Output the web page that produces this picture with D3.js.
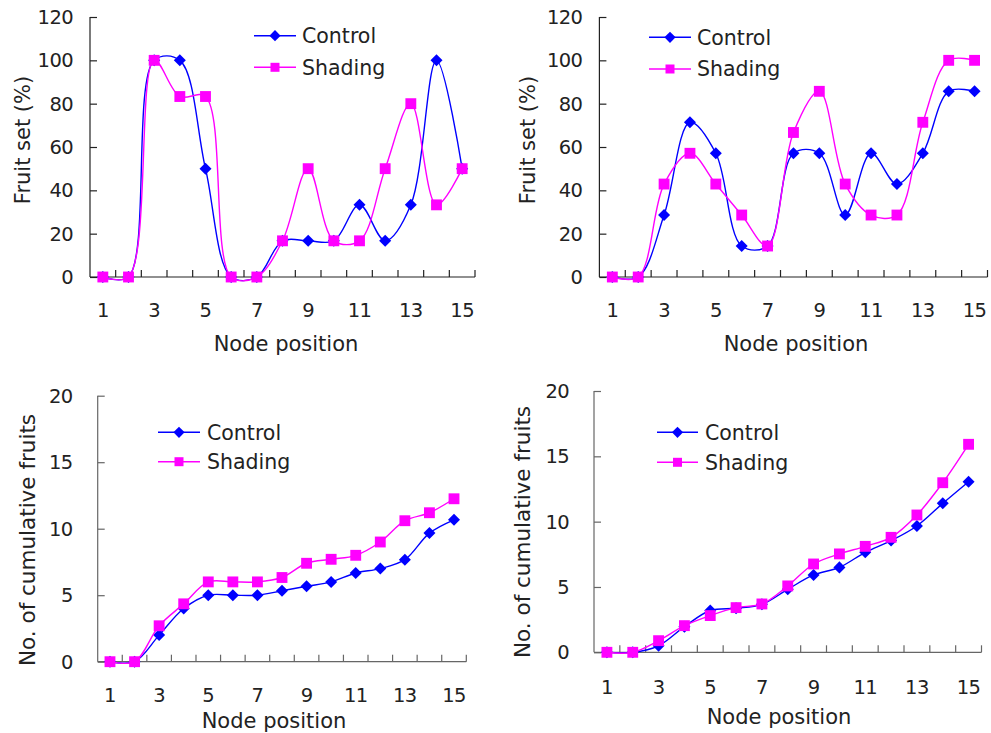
<!DOCTYPE html>
<html>
<head>
<meta charset="utf-8">
<script src="https://cdn.jsdelivr.net/npm/d3@7"></script>
<style>
  html, body { margin: 0; padding: 0; background: #fff; }
  svg { display: block; font-family: "DejaVu Sans", sans-serif; }
</style>
</head>
<body>
<svg id="chart" width="991" height="733"></svg>
<script>
// Node positions along the stem
const nodes = [1, 2, 3, 4, 5, 6, 7, 8, 9, 10, 11, 12, 13, 14, 15];
const nodeTickLabels = [1, 3, 5, 7, 9, 11, 13, 15];
const seriesNames = ["Control", "Shading"];

// Fruit set (%) per node, first experiment
const fruitSetA_control = [0, 0, 100, 100, 50, 0, 0, 16.7, 16.7, 16.7, 33.3, 16.7, 33.3, 100, 50];
const fruitSetA_shading = [0, 0, 100, 83.3, 83.3, 0, 0, 16.7, 50, 16.7, 16.7, 50, 80, 33.3, 50];

// Fruit set (%) per node, second experiment
const fruitSetB_control = [0, 0, 28.6, 71.4, 57.1, 14.3, 14.3, 57.1, 57.1, 28.6, 57.1, 42.9, 57.1, 85.7, 85.7];
const fruitSetB_shading = [0, 0, 42.9, 57.1, 42.9, 28.6, 14.3, 66.7, 85.7, 42.9, 28.6, 28.6, 71.4, 100, 100];

// Cumulative number of fruits per node, first experiment
const cumA_control = [0, 0, 2, 4, 5, 5, 5, 5.33, 5.67, 6, 6.67, 7, 7.67, 9.67, 10.67];
const cumA_shading = [0, 0, 2.7, 4.35, 6, 6, 6, 6.33, 7.4, 7.7, 8, 9, 10.6, 11.2, 12.25];

// Cumulative number of fruits per node, second experiment
const cumB_control = [0, 0, 0.5, 1.96, 3.2, 3.37, 3.67, 4.82, 5.92, 6.5, 7.65, 8.55, 9.67, 11.4, 13.06];
const cumB_shading = [0, 0, 0.89, 2.04, 2.81, 3.42, 3.7, 5.08, 6.76, 7.53, 8.11, 8.8, 10.51, 12.98, 15.92];

const fruitSetTicks = [0, 20, 40, 60, 80, 100, 120];
const cumulativeTicks = [0, 5, 10, 15, 20];

const COLORS = { Control: "#0000ff", Shading: "#ff00ff" };
const svg = d3.select("#chart");

function drawPanel(p) {
  const g = svg.append("g");
  const x = d3.scaleBand().domain(nodes).range([p.x0, p.x1]).paddingInner(0).paddingOuter(0);
  const y = d3.scaleLinear().domain([0, p.yMax]).range([p.y0, p.y1]);
  const cx = d => x(d) + x.bandwidth() / 2;

  // x axis line with inward ticks on category boundaries
  g.append("line")
    .attr("x1", p.x0).attr("x2", p.x1)
    .attr("y1", p.y0).attr("y2", p.y0)
    .attr("stroke", p.axisColor).attr("stroke-width", 1.2);
  nodes.forEach(n => {
    const bx = x(n) + x.bandwidth();
    g.append("line")
      .attr("x1", bx).attr("x2", bx)
      .attr("y1", p.y0).attr("y2", p.y0 - 7)
      .attr("stroke", p.axisColor).attr("stroke-width", 1.2);
  });

  // y axis with inward ticks
  const yAxis = d3.axisRight(y).tickValues(p.yTicks).tickSize(7).tickFormat("");
  const ya = g.append("g").attr("transform", `translate(${p.x0},0)`).call(yAxis);
  ya.select(".domain").attr("stroke", p.axisColor).attr("stroke-width", 1.2)
    .attr("d", `M0,${p.y0}V${p.y1}`);
  ya.selectAll(".tick line").attr("stroke", p.axisColor).attr("stroke-width", 1.2);

  // y tick labels
  g.selectAll(".ylab").data(p.yTicks).join("text")
    .attr("x", p.x0 - p.yLabGap)
    .attr("y", d => y(d))
    .attr("dy", "0.36em")
    .attr("text-anchor", "end")
    .attr("font-size", 19.5)
    .attr("letter-spacing", -0.6)
    .attr("fill", "#222")
    .text(d => d);

  // x tick labels
  g.selectAll(".xlab").data(nodeTickLabels).join("text")
    .attr("x", d => cx(d))
    .attr("y", p.xLabY)
    .attr("dy", "0.36em")
    .attr("text-anchor", "middle")
    .attr("font-size", 19.5)
    .attr("letter-spacing", -0.6)
    .attr("fill", "#222")
    .text(d => d);

  // axis titles
  g.append("text")
    .attr("x", p.xTitle[0]).attr("y", p.xTitle[1])
    .attr("dy", "0.36em")
    .attr("text-anchor", "middle")
    .attr("font-size", 21)
    .attr("fill", "#222")
    .text("Node position");
  g.append("text")
    .attr("transform", `translate(${p.yTitle[0]},${p.yTitle[1]}) rotate(-90)`)
    .attr("dy", "0.36em")
    .attr("text-anchor", "middle")
    .attr("font-size", p.yTitleSize)
    .attr("fill", "#222")
    .text(p.yTitleText);

  const line = d3.line()
    .x(d => cx(d.node))
    .y(d => y(d.v))
    .curve(d3.curveCatmullRom.alpha(0.5));

  p.series.forEach((vals, si) => {
    const name = seriesNames[si];
    const pts = nodes.map((n, i) => ({ node: n, v: vals[i] }));
    g.append("path")
      .attr("d", line(pts))
      .attr("fill", "none")
      .attr("stroke", COLORS[name])
      .attr("stroke-width", 1.4);
    const sym = name === "Control"
      ? d3.symbol().type(d3.symbolDiamond2).size(92)
      : d3.symbol().type(d3.symbolSquare).size(118);
    g.selectAll(".m" + si).data(pts).join("path")
      .attr("transform", d => `translate(${cx(d.node)},${y(d.v)})`)
      .attr("d", sym())
      .attr("fill", COLORS[name]);
  });

  // legend
  seriesNames.forEach((name, i) => {
    const ly = p.legend.ys[i];
    g.append("line")
      .attr("x1", p.legend.x0).attr("x2", p.legend.x1)
      .attr("y1", ly).attr("y2", ly)
      .attr("stroke", COLORS[name]).attr("stroke-width", 1.4);
    const sym = name === "Control"
      ? d3.symbol().type(d3.symbolDiamond2).size(80)
      : d3.symbol().type(d3.symbolSquare).size(81);
    g.append("path")
      .attr("transform", `translate(${(p.legend.x0 + p.legend.x1) / 2},${ly})`)
      .attr("d", sym())
      .attr("fill", COLORS[name]);
    g.append("text")
      .attr("x", p.legend.tx).attr("y", ly)
      .attr("dy", "0.36em")
      .attr("font-size", 20.5)
      .attr("fill", "#222")
      .text(name);
  });
}

drawPanel({
  x0: 90, x1: 475, y0: 277, y1: 17, yMax: 120, yTicks: fruitSetTicks,
  yLabGap: 17, xLabY: 310, xTitle: [286, 343], yTitle: [22, 140],
  yTitleText: "Fruit set (%)", yTitleSize: 21, axisColor: "#222",
  series: [fruitSetA_control, fruitSetA_shading],
  legend: { x0: 254, x1: 296, tx: 302, ys: [35.7, 67.3] }
});

drawPanel({
  x0: 599.4, x1: 987.5, y0: 277, y1: 17, yMax: 120, yTicks: fruitSetTicks,
  yLabGap: 17, xLabY: 310, xTitle: [796, 343], yTitle: [527, 140],
  yTitleText: "Fruit set (%)", yTitleSize: 21, axisColor: "#222",
  series: [fruitSetB_control, fruitSetB_shading],
  legend: { x0: 649, x1: 691, tx: 697, ys: [37.3, 69] }
});

drawPanel({
  x0: 97.7, x1: 466.3, y0: 661.7, y1: 395.7, yMax: 20, yTicks: cumulativeTicks,
  yLabGap: 25, xLabY: 695, xTitle: [274, 720], yTitle: [27, 540],
  yTitleText: "No. of cumulative fruits", yTitleSize: 21.5, axisColor: "#666",
  series: [cumA_control, cumA_shading],
  legend: { x0: 158, x1: 200, tx: 207, ys: [432.3, 461.7] }
});

drawPanel({
  x0: 594, x1: 981.5, y0: 652.3, y1: 391, yMax: 20, yTicks: cumulativeTicks,
  yLabGap: 25, xLabY: 687, xTitle: [779, 716], yTitle: [522, 532],
  yTitleText: "No. of cumulative fruits", yTitleSize: 21.5, axisColor: "#666",
  series: [cumB_control, cumB_shading],
  legend: { x0: 657, x1: 698, tx: 705, ys: [432.3, 462.3] }
});
</script>
</body>
</html>
